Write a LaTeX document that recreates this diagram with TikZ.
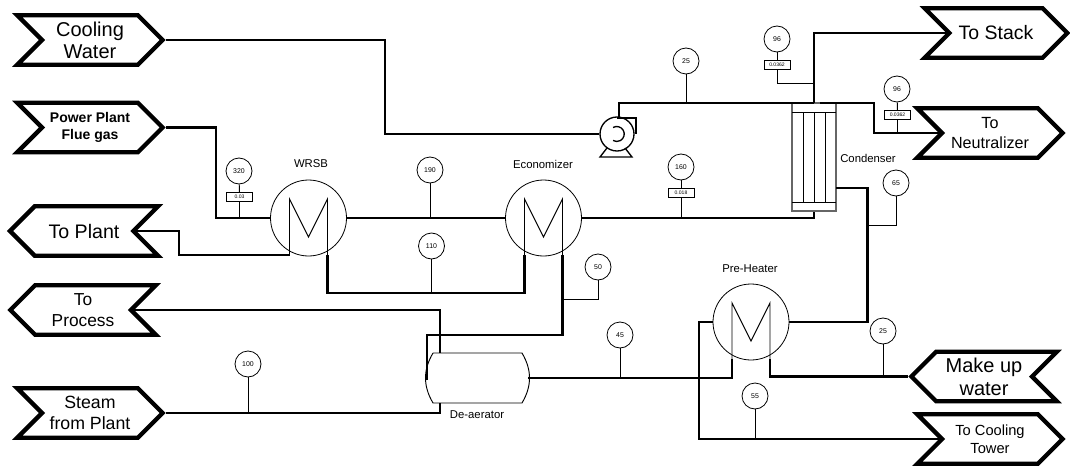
\documentclass[tikz,border=0pt]{standalone}
\usepackage{fontspec}
\setmainfont{Liberation Sans}
\usetikzlibrary{shapes.symbols,calc}
\begin{document}
\begin{tikzpicture}[
  x=0.75pt,y=-0.75pt,
  chev/.style={signal,draw,line width=3.2pt,signal pointer angle=90,
               minimum height=37pt,inner sep=0pt,align=center},
  inlet/.style={chev,signal from=west,signal to=east},
  outlet/.style={chev,signal from=east,signal to=west},
  exch/.style={circle,draw,line width=0.6pt,minimum size=57pt,inner sep=0pt},
  coil/.style={line width=0.7pt},
  gauge/.style={circle,draw,line width=0.6pt,minimum size=19.5pt,inner sep=0pt,font=\fontsize{5.2}{6}\selectfont},
  tag/.style={rectangle,draw,line width=0.6pt,minimum width=19.5pt,minimum height=7pt,inner sep=0pt,font=\fontsize{3.8}{4}\selectfont},
  lbl/.style={font=\fontsize{8.5}{10}\selectfont},
  pipe/.style={line width=1.6pt,line join=miter},
  hpipe/.style={line width=2.2pt,line join=miter},
  stem/.style={line width=0.7pt}
]
\useasboundingbox (0,0) rectangle (1070,467);

\node[inlet,minimum width=109pt,font=\fontsize{15}{16.5}\selectfont]  (coolw)  at (90,40)   {Cooling\\Water};
\node[inlet,minimum width=109pt,font=\bfseries\fontsize{10.5}{13}\selectfont] (flue) at (90,127.5) {Power Plant\\Flue gas};
\node[outlet,minimum width=111pt,font=\fontsize{14.7}{17}\selectfont] (toplant) at (84,231) {To Plant};
\node[outlet,minimum width=109pt,font=\fontsize{13}{16}\selectfont] (toproc) at (83,310)  {To\\Process};
\node[inlet,minimum width=109pt,font=\fontsize{13.3}{16}\selectfont]  (steam)  at (90,413)  {Steam\\from Plant};
\node[inlet,minimum width=107pt,font=\fontsize{14.6}{17}\selectfont]  (tostack) at (996,33) {To Stack};
\node[inlet,minimum width=109pt,font=\fontsize{12.1}{15}\selectfont]  (toneut) at (990,133) {To\\Neutralizer};
\node[outlet,minimum width=109pt,font=\fontsize{15}{17.3}\selectfont] (makeup) at (984,376.5) {Make up\\water};
\node[inlet,minimum width=109pt,font=\fontsize{11}{13.5}\selectfont] (tocool) at (990,439) {To Cooling\\Tower};

\node[exch] (wrsb) at (308.5,218) {};
\node[exch] (econ) at (543.5,218) {};
\node[exch] (preh) at (751,322) {};
\foreach \e in {wrsb,econ,preh}{
  \coordinate (\e l) at ($(\e)+(-19,37)$);
  \coordinate (\e r) at ($(\e)+(19,37)$);
  \draw[coil] (\e l) -- ++(0,-56) -- ++(19,38) -- ++(19,-38) -- (\e r);
}
\node[lbl] at (311,164) {WRSB};
\node[lbl] at (543,164) {Economizer};
\node[lbl] at (750,269) {Pre-Heater};
\node[lbl] at (868,158) {Condenser};
\node[lbl] at (477,415) {De-aerator};

\node[rectangle,draw=black!60,line width=0.8pt,minimum width=33pt,minimum height=81pt,inner sep=0pt] (cond) at (814,157) {};
\draw[coil] (792,112) -- (836,112) (792,202) -- (836,202);
\foreach \xx in {803,814,825} \draw[coil] (\xx,112) -- (\xx,202);

\node[circle,draw,line width=1pt,minimum size=25.5pt,inner sep=0pt] (pump) at (617,134) {};
\draw[line width=1pt] (617,118) -- (636,118) -- (636,134);
\draw[line width=1pt] (607,148) -- (600,157) -- (632,157) -- (625,148);
\draw[line width=1pt] (613,127.5) arc (-120:120:7.5);

\node[rectangle,minimum width=76pt,minimum height=37pt,inner sep=0pt] (dea) at (477.5,378) {};
\draw[line width=0.7pt] (433,353) -- (522,353) .. controls (532,370) and (532,386) .. (522,403)
  -- (433,403) .. controls (423,386) and (423,370) .. (433,353);

\foreach \n/\x/\y/\v in {a/239/171/320,b/430/170/190,c/431.5/246/110,d/598/267/50,e/681/167/160,
  f/686/61/25,g/777/39/96,h/897/89/96,i/896/183/65,j/620/335/45,k/883/331/25,l/755/396/55,m/248/364/100}
  \node[gauge] (g\n) at (\x,\y) {\v};
\node[tag] (ta) at (239.5,197) {0.03};
\node[tag] (te) at (681,193) {0.018};
\node[tag] (tg) at (777,65) {0.0362};
\node[tag] (th) at (897.5,115) {0.0362};

\coordinate (cwbend) at (385,134);
\coordinate (fgbend) at (216,218);
\coordinate (plbend) at (179,231);
\coordinate (ecbend) at (524.5,293);
\coordinate (debend) at (427,335);
\coordinate (deleft) at (427,380);
\coordinate (dein) at (440,353);
\coordinate (deout) at (440,403);
\coordinate (deright) at (528,378);
\coordinate (pumpin) at (619,118);
\coordinate (pumpbend) at (619,103);
\coordinate (condtop) at (814,103);
\coordinate (neutop) at (820,103);
\coordinate (neubend) at (874,133);
\coordinate (condout) at (836,188);
\coordinate (phbend) at (867.5,322);
\coordinate (twbend) at (699,439);
\coordinate (g5) at (896,225);
\coordinate (g5b) at (867.5,225);
\coordinate (g6) at (777,83);
\coordinate (g6b) at (814,83);
\coordinate (g7) at (598,299);
\coordinate (g7b) at (562.5,299);

\draw[pipe] (coolw.east) -| (cwbend) -- (pump.west);
\draw[pipe] (flue.east) -| (fgbend) -- (wrsb.west);
\draw[pipe] (wrsb.east) -- (econ.west);
\draw[pipe] (econ.east) -| (cond.south);
\draw[hpipe] (wrsbl) -| (plbend) -- (toplant.east);
\draw[hpipe] (wrsbr) |- (ecbend) -- (econl);
\draw[hpipe] (econr) |- (debend) -- (deleft);
\draw[pipe] (toproc.east) -| (dein);
\draw[pipe] (steam.east) -| (deout);
\draw[hpipe] (pumpin) -- (pumpbend) -- (condtop);
\draw[hpipe] (condtop) |- (tostack.west);
\draw[pipe] (neutop) -| (neubend) -- (toneut.west);
\draw[pipe] (condout) -| (phbend) -- (preh.east);
\draw[hpipe] (deright) -| (prehl);
\draw[pipe] (prehr) |- (makeup.west);
\draw[pipe] (preh.west) -| (twbend) -- (tocool.west);

\draw[stem] (ga) -- (ta) -- (ta |- wrsb);
\draw[stem] (gb) -- (gb |- wrsb);
\draw[stem] (gc) -- (gc |- ecbend);
\draw[stem] (gd) -- (g7) -- (g7b);
\draw[stem] (ge) -- (te) -- (te |- econ);
\draw[stem] (gf) -- (gf |- pumpbend);
\draw[stem] (gg) -- (tg) -- (g6) -- (g6b);
\draw[stem] (gh) -- (th) -- (th |- neubend);
\draw[stem] (gi) -- (g5) -- (g5b);
\draw[stem] (gj) -- (gj |- deright);
\draw[stem] (gk) -- (gk |- makeup);
\draw[stem] (gl) -- (gl |- tocool);
\draw[stem] (gm) -- (gm |- steam);
\end{tikzpicture}
\end{document}
